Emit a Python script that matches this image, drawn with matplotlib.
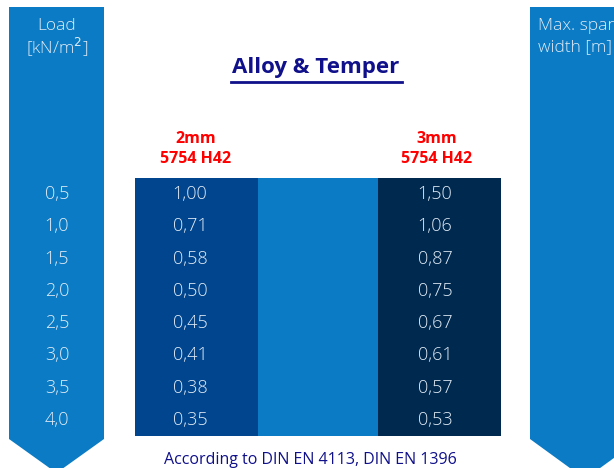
import matplotlib
matplotlib.use('Agg')
import matplotlib.pyplot as plt
from matplotlib.patches import Polygon, Rectangle

# data
loads = ['0,5', '1,0', '1,5', '2,0', '2,5', '3,0', '3,5', '4,0']
span_2mm = [1.00, 0.71, 0.58, 0.50, 0.45, 0.41, 0.38, 0.35]
span_3mm = [1.50, 1.06, 0.87, 0.75, 0.67, 0.61, 0.57, 0.53]
col_headers = ['2mm\n5754 H42', '3mm\n5754 H42']
title = 'Alloy & Temper'
footer = 'According to DIN EN 4113, DIN EN 1396'

ARROW = '#0a7bc4'
COL1 = '#00458d'
COL2 = '#0a7bc4'
COL3 = '#00294f'
TXT = '#e2ecf6'
NUM_FONT = ['Open Sans', 'DejaVu Sans']
HEAD_FONT = ['Open Sans', 'DejaVu Sans']

fig = plt.figure(figsize=(6.14, 4.68), dpi=100)
ax = fig.add_axes([0, 0, 1, 1])
ax.set_xlim(0, 614)
ax.set_ylim(468, 0)
ax.axis('off')

# side arrows
def arrow(x0, x1, y_top, y_neck, y_tip):
    xm = (x0 + x1) / 2
    pts = [(x0, y_top), (x1, y_top), (x1, y_neck), (xm, y_tip), (x0, y_neck)]
    ax.add_patch(Polygon(pts, closed=True, facecolor=ARROW, edgecolor='none'))

arrow(9, 104, 7, 439, 473)
arrow(530, 640, 7, 439, 479)

lbl = dict(color=TXT, fontsize=12.5, family=NUM_FONT, fontweight='light', va='center')
ax.text(57, 26, 'Load', ha='center', **lbl)
ax.text(57, 47, '[kN/m$^2$]', ha='center', **lbl)
ax.text(538, 26, 'Max. span', ha='left', **lbl)
ax.text(538, 47, 'width [m]', ha='left', **lbl)

# table
top, bottom = 178, 436
row_h = (bottom - top) / len(loads)
ax.add_patch(Rectangle((135, top), 123, bottom - top, facecolor=COL1, edgecolor='none'))
ax.add_patch(Rectangle((258, top), 120, bottom - top, facecolor=COL2, edgecolor='none'))
ax.add_patch(Rectangle((378, top), 123, bottom - top, facecolor=COL3, edgecolor='none'))

num = dict(color=TXT, fontsize=13, family=NUM_FONT, fontweight='light', ha='center', va='center')
for i, (ld, a, b) in enumerate(zip(loads, span_2mm, span_3mm)):
    y = top + (i + 0.5) * row_h
    ax.text(57, y, ld, **num)
    ax.text(190, y, f'{a:.2f}'.replace('.', ','), **num)
    ax.text(435, y, f'{b:.2f}'.replace('.', ','), **num)

# column headers
for x, h in zip([196, 437], col_headers):
    ax.text(x, 149, h, color='#ff0000', fontsize=11.5, fontweight='bold', family=HEAD_FONT,
            ha='center', va='center', linespacing=1.35)

ax.text(316, 68, title, color='#10108a', fontsize=16, fontweight='bold', family=HEAD_FONT,
        ha='center', va='center')
ax.plot([231, 402], [82, 82], color='#10108a', lw=2)

ax.text(310, 460, footer, color='#10108a', fontsize=11.5, family=HEAD_FONT,
        ha='center', va='center')

fig.savefig('out.png', dpi=100)
